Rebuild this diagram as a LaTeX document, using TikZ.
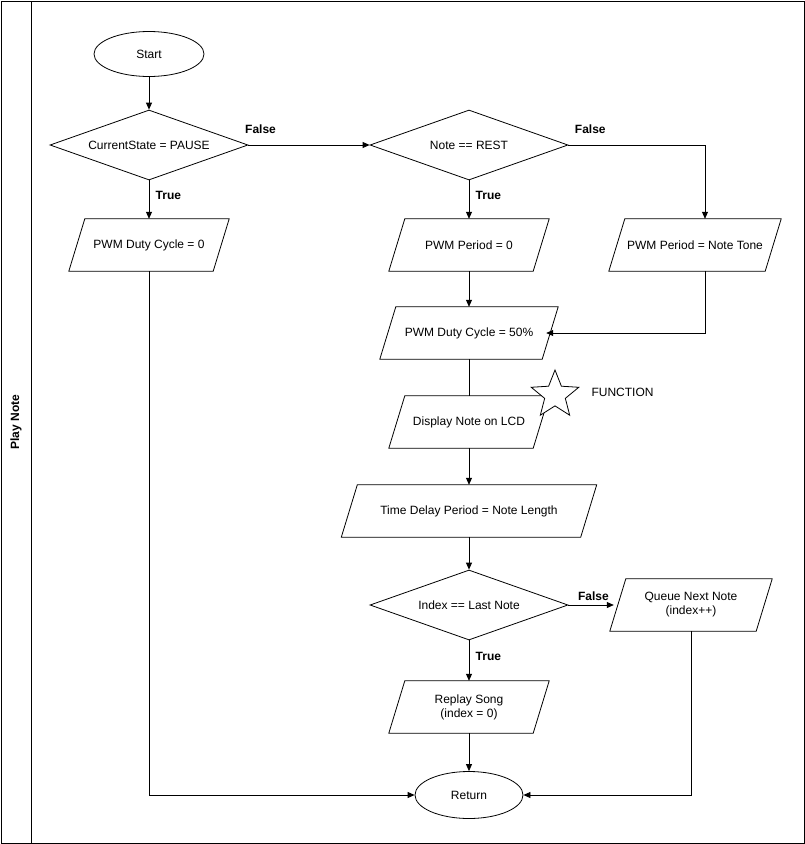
\documentclass[tikz,border=0pt]{standalone}
\usepackage{fontspec}
\setmainfont{Liberation Sans}
\usetikzlibrary{shapes.geometric,arrows.meta,calc}
\newcommand\pgram[4]{%
 \node[box,minimum width=#3] (#1) at (#2) {#4};
 \draw[line] ($(#1.north west)+(8,0)$) -- ($(#1.north east)+(8,0)$) -- ($(#1.south east)+(-8,0)$) -- ($(#1.south west)+(-8,0)$) -- cycle;}
\begin{document}
\begin{tikzpicture}[x=1pt,y=-1pt,
 every node/.style={font=\fontsize{12}{14}\selectfont},
 line/.style={draw=black,line width=0.8pt},
 box/.style={minimum height=52,inner sep=0pt,align=center},
 dia/.style={diamond,draw,line width=0.8pt,minimum width=198,minimum height=70,aspect=2.83,inner sep=0pt},
 ell/.style={ellipse,draw,line width=0.8pt,minimum width=110,minimum height=45},
 arr/.style={line,-{Triangle[length=7pt,width=6pt]}},
 lab/.style={font=\fontsize{12}{14}\selectfont\bfseries}]
\useasboundingbox (0,0) rectangle (805,844);
\draw[line] (1,1) rectangle (804,843);
\draw[line] (31,1) -- (31,843);
\node[lab,rotate=90] (title) at (16,422) {Play Note};
\node[ell] (start) at (149,54) {Start};
\node[dia] (d1) at (149,145) {CurrentState = PAUSE};
\node[dia] (d2) at (469,145) {Note == REST};
\pgram{duty0}{149,245}{144}{PWM Duty Cycle = 0}
\pgram{per0}{469,245}{144}{PWM Period = 0}
\pgram{tone}{695,245}{156}{PWM Period = Note Tone}
\pgram{duty50}{469,333}{162}{PWM Duty Cycle = 50\%}
\pgram{lcd}{469,422}{144}{Display Note on LCD}
\node[star,star points=5,star point ratio=2.3,draw,line width=0.8pt,fill=white,minimum size=50,inner sep=0pt] (star) at (555,395) {};
\node[anchor=west] (fn) at (588,392) {FUNCTION};
\pgram{delay}{469,511}{239}{Time Delay Period = Note Length}
\node[dia] (d3) at (469,605) {Index == Last Note};
\pgram{queue}{691,605}{146}{Queue Next Note\\(index++)}
\pgram{replay}{469,707}{144}{Replay Song\\(index = 0)}
\node[ell,minimum width=108,minimum height=47] (ret) at (469,795) {Return};
\draw[arr] (start) -- (d1);
\draw[arr] (d1) -- node[lab,pos=0.1,above=8pt]{False} (d2);
\draw[arr] (d1) -- node[lab,pos=0.4,right=3pt]{True} (duty0);
\draw[arr] (d2.east) -| node[lab,pos=0.08,above=8pt]{False} (tone.north -| 705,0);
\draw[arr] (d2) -- node[lab,pos=0.4,right=3pt]{True} (per0);
\draw[arr] (per0) -- (duty50);
\draw[arr] (tone.south -| 705,0) |- ($(duty50.east)+(-4,0)$);
\draw[line] (duty50) -- (lcd);
\draw[arr] (lcd) -- (delay);
\draw[arr] (delay) -- (d3);
\draw[arr] (d3) -- node[lab,pos=0.55,above=1pt]{False} ($(queue.west)+(-4,0)$);
\draw[arr] (d3) -- node[lab,pos=0.4,right=3pt]{True} (replay);
\draw[arr] (replay) -- (ret);
\draw[arr] (duty0) |- (ret);
\draw[arr] (queue) |- (ret);
\end{tikzpicture}
\end{document}
